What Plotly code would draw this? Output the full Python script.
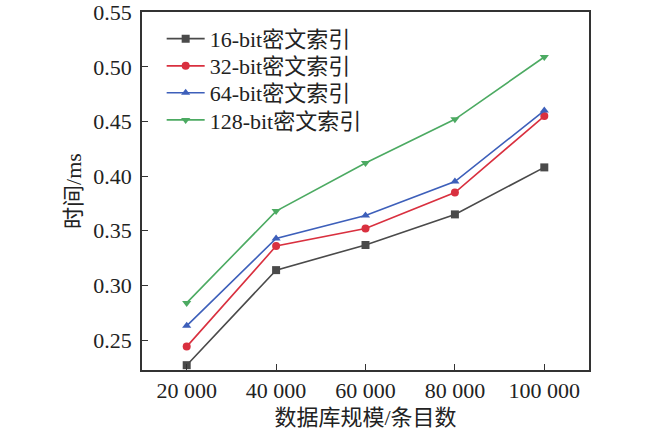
import plotly.graph_objects as go

sizes = [20000, 40000, 60000, 80000, 100000]
tick_text = ["20 000", "40 000", "60 000", "80 000", "100 000"]
y_ticks = [0.25, 0.30, 0.35, 0.40, 0.45, 0.50, 0.55]

time_16 = [0.227, 0.314, 0.337, 0.365, 0.408]
time_32 = [0.244, 0.336, 0.352, 0.385, 0.455]
time_64 = [0.263, 0.343, 0.364, 0.395, 0.460]
time_128 = [0.284, 0.368, 0.412, 0.452, 0.509]

series = [
    ("16-bit密文索引", time_16, "#4a4a4a", "square"),
    ("32-bit密文索引", time_32, "#d9303f", "circle"),
    ("64-bit密文索引", time_64, "#3d5fba", "triangle-up"),
    ("128-bit密文索引", time_128, "#4caa62", "triangle-down"),
]

font_family = "Liberation Serif, Noto Sans CJK SC, serif"

fig = go.Figure()
# one legend per series so the row spacing can be set by hand
legend_ids = ["legend", "legend2", "legend3", "legend4"]
for (name, values, color, symbol), legend_id in zip(series, legend_ids):
    fig.add_trace(
        go.Scatter(
            x=sizes,
            y=values,
            name=name,
            mode="lines+markers",
            line=dict(color=color, width=1.6),
            marker=dict(symbol=symbol, size=8, color=color),
            legend=legend_id,
        )
    )

axis_style = dict(
    showline=True,
    linecolor="#333333",
    linewidth=1.5,
    mirror=True,
    ticks="inside",
    ticklen=6,
    tickcolor="#333333",
    showgrid=False,
    zeroline=False,
    automargin=False,
    ticklabeloverflow="allow",
    tickfont=dict(size=22, color="#222222", family=font_family),
)

legend_style = dict(
    x=0.044,
    xanchor="left",
    yanchor="middle",
    bgcolor="rgba(0,0,0,0)",
    font=dict(size=22, family=font_family, color="#222222"),
    itemwidth=38,
)
legend_rows = [0.925, 0.849, 0.774, 0.698]

fig.update_layout(
    width=650,
    height=433,
    margin=dict(l=142, r=61, t=12, b=63),
    paper_bgcolor="white",
    plot_bgcolor="white",
    showlegend=True,
    font=dict(family=font_family, color="#222222"),
    xaxis=dict(
        range=[10000, 110000],
        tickvals=sizes,
        ticktext=tick_text,
        ticklabelstandoff=0,
        title=dict(text="数据库规模/条目数", font=dict(size=22), standoff=7),
        **axis_style,
    ),
    yaxis=dict(
        range=[0.2226, 0.5502],
        tickvals=y_ticks,
        tickformat=".2f",
        ticklabelstandoff=4,
        title=dict(text="时间/ms", font=dict(size=22), standoff=6),
        **axis_style,
    ),
    legend=dict(y=legend_rows[0], **legend_style),
    legend2=dict(y=legend_rows[1], **legend_style),
    legend3=dict(y=legend_rows[2], **legend_style),
    legend4=dict(y=legend_rows[3], **legend_style),
)

# drop the default 8px body margin so the figure sits at the page corner
fig.write_html(
    "out.html",
    config={"displayModeBar": False},
    post_script="document.body.style.margin = '0';",
)
